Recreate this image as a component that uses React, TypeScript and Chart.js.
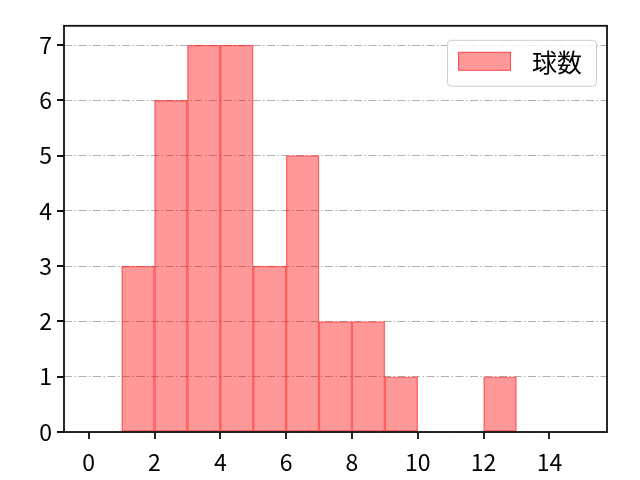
import { useEffect, useRef } from 'react'
import { Chart, registerables } from 'chart.js'

Chart.register(...registerables)

// histogram bins (left edge of each bin, width 1) and counts
const binStarts = [1, 2, 3, 4, 5, 6, 7, 8, 9, 10, 11, 12]
const counts = [3, 6, 7, 7, 3, 5, 2, 2, 1, 0, 0, 1]
const xTicks = [0, 2, 4, 6, 8, 10, 12, 14]
const yTicks = [0, 1, 2, 3, 4, 5, 6, 7]
const seriesLabel = '球数'

const FONT = "'Noto Sans CJK JP', 'Noto Sans', sans-serif"
const FILL = 'rgba(255, 0, 0, 0.4)'
const EDGE = 'rgba(255, 0, 0, 0.5)'

// frame, outside tick marks and the boxed legend, matplotlib style
const framePlugin = {
  id: 'frame',
  afterDraw(chart: any) {
    const { ctx, chartArea: a, scales } = chart
    ctx.save()
    ctx.strokeStyle = '#111'
    ctx.lineWidth = 1.8
    ctx.beginPath()
    scales.x.ticks.forEach((t: any) => {
      const px = Math.round(scales.x.getPixelForValue(t.value))
      ctx.moveTo(px, a.bottom)
      ctx.lineTo(px, a.bottom + 7)
    })
    scales.y.ticks.forEach((t: any) => {
      const py = Math.round(scales.y.getPixelForValue(t.value))
      ctx.moveTo(a.left, py)
      ctx.lineTo(a.left - 7, py)
    })
    ctx.stroke()
    ctx.strokeRect(a.left, a.top, a.right - a.left, a.bottom - a.top)

    // legend
    const bx = a.right - 160
    const by = a.top + 14
    const bw = 149
    const bh = 46
    ctx.beginPath()
    ctx.roundRect(bx + 0.5, by + 0.5, bw, bh, 4)
    ctx.fillStyle = 'rgba(255,255,255,0.8)'
    ctx.fill()
    ctx.strokeStyle = '#cccccc'
    ctx.lineWidth = 1
    ctx.stroke()
    ctx.fillStyle = FILL
    ctx.fillRect(bx + 11, by + 12, 53, 19)
    ctx.strokeStyle = EDGE
    ctx.strokeRect(bx + 11.5, by + 12.5, 52, 18)
    ctx.fillStyle = '#000'
    ctx.font = `25px ${FONT}`
    ctx.textBaseline = 'middle'
    ctx.textAlign = 'left'
    ctx.fillText(chart.data.datasets[0].label, bx + 85, by + 23)
    ctx.restore()
  }
}

export default function App() {
  const chartRef = useRef<HTMLCanvasElement>(null)

  useEffect(() => {
    if (!chartRef.current) return
    const chart = new Chart(chartRef.current, {
      type: 'bar',
      data: {
        datasets: [
          {
            label: seriesLabel,
            data: binStarts.map((s, i) => ({ x: s + 0.5, y: counts[i] || null })) as any,
            backgroundColor: FILL,
            borderColor: EDGE,
            borderWidth: 0.8,
            borderSkipped: false,
            barPercentage: 1,
            categoryPercentage: 1
          }
        ]
      },
      options: {
        animation: false,
        responsive: true,
        maintainAspectRatio: false,
        layout: { padding: { top: 23, right: 33, left: 0, bottom: 0 }, autoPadding: false },
        plugins: {
          legend: { display: false },
          tooltip: { enabled: false }
        },
        scales: {
          x: {
            type: 'linear',
            min: -0.75,
            max: 15.75,
            offset: false,
            afterBuildTicks: (s: any) => { s.ticks = xTicks.map(v => ({ value: v })) },
            afterFit: (s: any) => { s.height = 48 },
            ticks: { color: '#000', font: { family: FONT, size: 23 }, padding: 8, maxRotation: 0 },
            grid: { display: false },
            border: { display: false }
          },
          y: {
            min: 0,
            max: 7.35,
            afterBuildTicks: (s: any) => { s.ticks = yTicks.map(v => ({ value: v })) },
            afterFit: (s: any) => { s.width = 64 },
            ticks: { color: '#000', font: { family: FONT, size: 23 }, padding: 12 },
            grid: { color: '#b0b0b0', lineWidth: 1, drawTicks: false },
            border: { display: false, dash: [8, 2.5, 1.5, 2.5] }
          }
        }
      },
      plugins: [framePlugin]
    })
    return () => chart.destroy()
  }, [])

  return (
    <div style={{ position: 'fixed', left: 0, top: 0, width: 640, height: 480, background: '#fff' }}>
      <canvas ref={chartRef} />
    </div>
  )
}
